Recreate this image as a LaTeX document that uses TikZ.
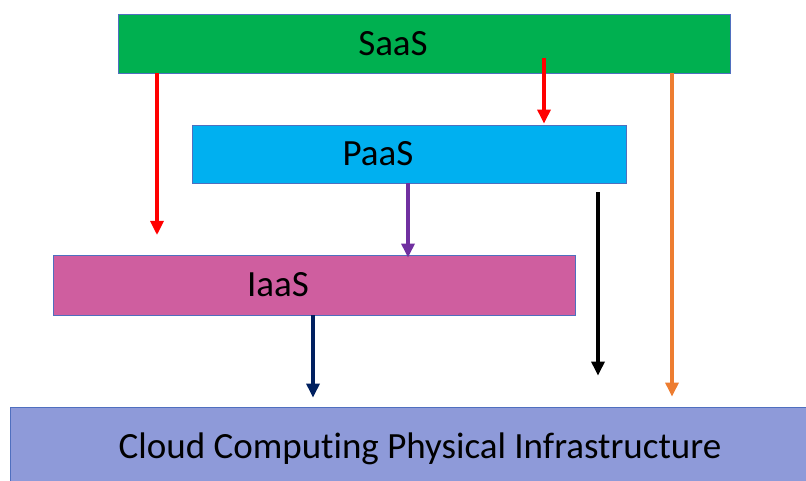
\documentclass[tikz,border=0pt]{standalone}
\usepackage{fontspec}
\setmainfont{Carlito}[Ligatures={NoCommon}]
\usetikzlibrary{arrows.meta}

\definecolor{saasgreen}{HTML}{00B050}
\definecolor{paascyan}{HTML}{00B0F0}
\definecolor{iaaspink}{HTML}{CF5E9F}
\definecolor{infrablue}{HTML}{8E9AD9}
\definecolor{layerline}{HTML}{4F6FBF}
\definecolor{arrorange}{HTML}{ED7D31}
\definecolor{arrpurple}{HTML}{7030A0}
\definecolor{arrnavy}{HTML}{002060}

\begin{document}
\begin{tikzpicture}[x=1pt, y=1pt, every node/.style={font=\fontsize{37}{40}\selectfont}, >={Triangle[length=14pt,width=13pt]},
	layer/.style={draw=layerline, line width=0.8pt, inner sep=0pt},
	flow/.style={->, line width=3.2pt}]
	\clip (0,0) rectangle (806,481);
	% service layers, top to bottom
	\node[layer, fill=saasgreen, minimum width=612pt, minimum height=59pt, label={[xshift=-31pt]center:SaaS}] (saas) at (424,437.5) {};
	\node[layer, fill=paascyan, minimum width=434pt, minimum height=58pt, label={[xshift=-31pt]center:PaaS}] (paas) at (409,327) {};
	\node[layer, fill=iaaspink, minimum width=522pt, minimum height=60pt, label={[xshift=-36pt]center:IaaS}] (iaas) at (314,196) {};
	\node[layer, fill=infrablue, minimum width=820pt, minimum height=78pt, label={[yshift=-3pt]center:Cloud Computing Physical Infrastructure}] (infra) at (420,35) {};
	% x positions of the arrows
	\foreach \n/\x in {xa/157, xb/544, xo/672, xp/408, xk/598, xn/313} {
		\coordinate (\n) at (\x,0);
	}
	\coordinate (ra) at (157,246);
	% arrows
	\draw[flow, red] (saas.south -| xa) -- (ra);
	\draw[flow, red] ([yshift=15pt]saas.south -| xb) -- ([yshift=1pt]paas.north -| xb);
	\draw[flow, arrorange] (saas.south -| xo) -- ([yshift=10pt]infra.north -| xo);
	\draw[flow, arrpurple] (paas.south -| xp) -- ([yshift=-3pt]iaas.north -| xp);
	\draw[flow, black] ([yshift=-9pt]paas.south -| xk) -- ([yshift=31pt]infra.north -| xk);
	\draw[flow, arrnavy] (iaas.south -| xn) -- ([yshift=9pt]infra.north -| xn);
\end{tikzpicture}
\end{document}
